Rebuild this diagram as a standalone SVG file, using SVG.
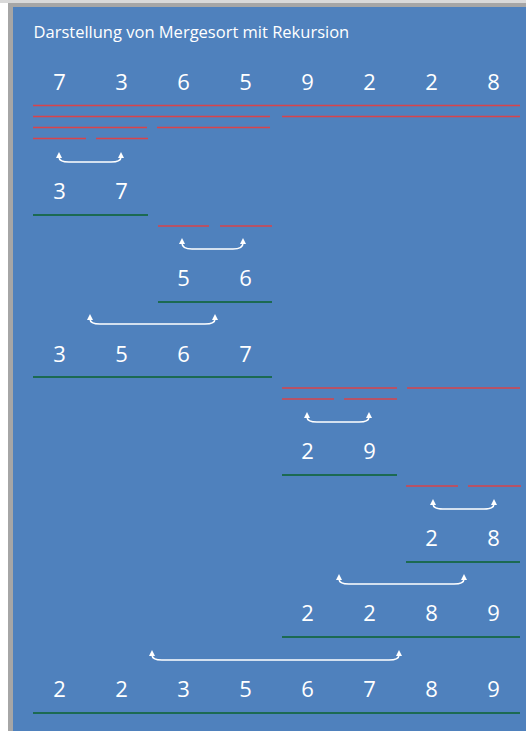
<svg xmlns="http://www.w3.org/2000/svg" width="526" height="731" viewBox="0 0 526 731">
<style>
.t{font-family:"Open Sans","Noto Sans","Liberation Sans",sans-serif;fill:#ffffff}
.d{font-size:22px;text-anchor:middle}
.r{stroke:#d9434a;stroke-width:1.6;fill:none}
.g{stroke:#1c6a52;stroke-width:2.2;fill:none}
.a{stroke:#ffffff;stroke-width:1.5;fill:none;marker-start:url(#ah);marker-end:url(#ah)}
</style>
<defs>
<marker id="ah" markerUnits="userSpaceOnUse" viewBox="0 0 6 6" refX="1" refY="3" markerWidth="6" markerHeight="6" orient="auto-start-reverse">
<path d="M0,0 L6,3 L0,6 z" fill="#ffffff"/>
</marker>
</defs>
<rect x="0" y="0" width="526" height="731" fill="#ffffff"/>
<rect x="0" y="0" width="526" height="3" fill="#d9d9d9"/>
<rect x="8" y="3" width="518" height="728" fill="#a6a6a6"/>
<rect x="13" y="7" width="513" height="724" fill="#4f81bd"/>
<text id="title" class="t" x="33.5" y="38" font-size="16.5">Darstellung von Mergesort mit Rekursion</text>

<g id="row0" class="t d">
<text x="59.5" y="90">7</text><text x="121.5" y="90">3</text><text x="183.5" y="90">6</text><text x="245.5" y="90">5</text><text x="307.5" y="90">9</text><text x="369.5" y="90">2</text><text x="431.5" y="90">2</text><text x="493.5" y="90">8</text>
</g>
<g id="row37" class="t d"><text x="59.5" y="199">3</text><text x="121.5" y="199">7</text></g>
<g id="row56" class="t d"><text x="183.5" y="286">5</text><text x="245.5" y="286">6</text></g>
<g id="row3567" class="t d"><text x="59.5" y="362">3</text><text x="121.5" y="362">5</text><text x="183.5" y="362">6</text><text x="245.5" y="362">7</text></g>
<g id="row29" class="t d"><text x="307.5" y="459">2</text><text x="369.5" y="459">9</text></g>
<g id="row28" class="t d"><text x="431.5" y="546">2</text><text x="493.5" y="546">8</text></g>
<g id="row2289" class="t d"><text x="307.5" y="621">2</text><text x="369.5" y="621">2</text><text x="431.5" y="621">8</text><text x="493.5" y="621">9</text></g>
<g id="rowfinal" class="t d"><text x="59.5" y="697">2</text><text x="121.5" y="697">2</text><text x="183.5" y="697">3</text><text x="245.5" y="697">5</text><text x="307.5" y="697">6</text><text x="369.5" y="697">7</text><text x="431.5" y="697">8</text><text x="493.5" y="697">9</text></g>

<g id="splits">
<path class="r" d="M33,105.5H520 M33,116.5H270 M282,116.5H520 M33,127.5H147 M157,127.5H270 M33,138.5H86 M96,138.5H148 M158,226H209 M220,226H272 M282,388H397 M407,388H520 M282,399H334 M344,399H397 M406,486H458 M468,486H521"/>
</g>
<g id="merges">
<path class="g" d="M33,215H148 M158,302H272 M33,377H272 M282,475H397 M406,562H520 M282,637H520 M33,713H520"/>
</g>
<g id="connectors">
<path class="a" d="M59,157 Q59,162 69,162 H111 Q121,162 121,157"/>
<path class="a" d="M182,243 Q182,249 192,249 H233 Q243,249 243,243"/>
<path class="a" d="M90,319 Q90,324 100,324 H205 Q215,324 215,319"/>
<path class="a" d="M307,417 Q307,422 317,422 H359 Q369,422 369,417"/>
<path class="a" d="M433,504 Q433,509 443,509 H484 Q494,509 494,504"/>
<path class="a" d="M339,579 Q339,584 349,584 H454 Q464,584 464,579"/>
<path class="a" d="M152,655 Q152,660 162,660 H389 Q399,660 399,655"/>
</g>
</svg>
